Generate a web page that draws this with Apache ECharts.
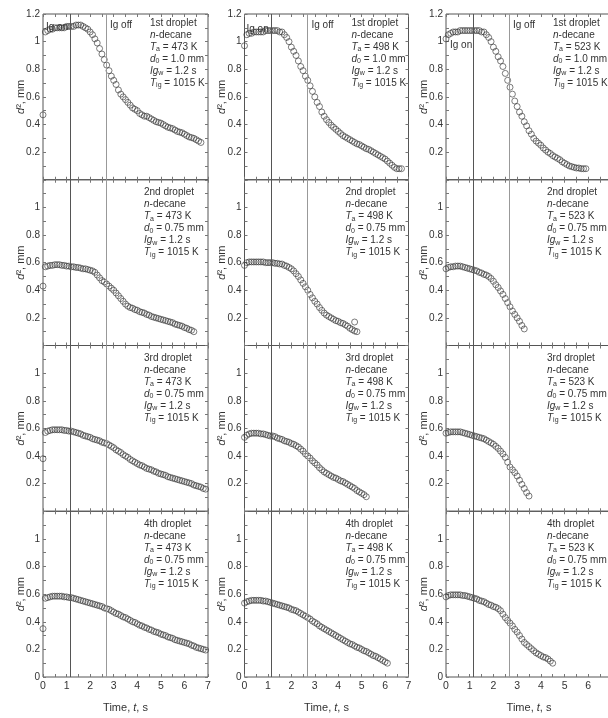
<!DOCTYPE html>
<html><head><meta charset="utf-8">
<script src="https://cdn.jsdelivr.net/npm/echarts@6/dist/echarts.min.js"></script>
<style>html,body{margin:0;padding:0;background:#fff}#c{width:608px;height:718px}</style>
</head><body><div id="c"></div><script>
// ---- data ----
const TIME = [0,0.1,0.2,0.3,0.4,0.5,0.6,0.7,0.8,0.9,1.0,1.1,1.2,1.3,1.4,1.5,1.6,1.7,1.8,1.9,2.0,2.1,2.2,2.3,2.4,2.5,2.6,2.7,2.8,2.9,3.0,3.1,3.2,3.3,3.4,3.5,3.6,3.7,3.8,3.9,4.0,4.1,4.2,4.3,4.4,4.5,4.6,4.7,4.8,4.9,5.0,5.1,5.2,5.3,5.4,5.5,5.6,5.7,5.8,5.9,6.0,6.1,6.2,6.3,6.4,6.5,6.6,6.7,6.8,6.9,7.0];
const TEMPS = [473, 498, 523];
const ORDINALS = ['1st droplet', '2nd droplet', '3rd droplet', '4th droplet'];
const D0_LABELS = ['1.0', '0.75', '0.75', '0.75'];
const IGW_LABEL = '1.2';
const TIG_LABEL = '1015';
const IG_TIMES = [1.15, 2.67];
const X_TICK_LABELS = ['0','1','2','3','4','5','6','7'];

// 1st droplet
const D473_1 = [0.47,1.07,1.08,1.09,1.09,1.10,1.10,1.10,1.10,1.10,1.11,1.11,1.11,1.11,1.12,1.12,1.12,1.11,1.10,1.09,1.07,1.05,1.02,0.99,0.95,0.91,0.87,0.83,0.79,0.75,0.72,0.69,0.65,0.62,0.60,0.58,0.56,0.54,0.52,0.51,0.50,0.48,0.47,0.46,0.46,0.45,0.44,0.43,0.42,0.415,0.41,0.40,0.39,0.38,0.375,0.37,0.36,0.35,0.345,0.34,0.33,0.32,0.31,0.305,0.30,0.29,0.28,0.27];
const D498_1 = [0.97,1.05,1.06,1.06,1.07,1.07,1.07,1.07,1.07,1.08,1.08,1.08,1.08,1.08,1.08,1.07,1.07,1.05,1.03,1.00,0.96,0.93,0.90,0.86,0.82,0.79,0.75,0.72,0.68,0.64,0.60,0.56,0.53,0.49,0.46,0.435,0.415,0.395,0.38,0.365,0.35,0.335,0.32,0.31,0.30,0.29,0.28,0.27,0.26,0.255,0.245,0.235,0.225,0.22,0.21,0.20,0.19,0.18,0.17,0.16,0.15,0.135,0.12,0.105,0.09,0.08,0.08,0.08];
const D523_1 = [1.02,1.05,1.06,1.07,1.07,1.07,1.08,1.08,1.08,1.08,1.08,1.08,1.08,1.08,1.08,1.07,1.07,1.05,1.03,1.00,0.96,0.93,0.89,0.86,0.82,0.77,0.72,0.67,0.62,0.57,0.53,0.49,0.46,0.42,0.39,0.355,0.33,0.30,0.28,0.265,0.25,0.23,0.215,0.20,0.19,0.175,0.165,0.155,0.145,0.13,0.12,0.11,0.10,0.095,0.09,0.085,0.085,0.08,0.08,0.08];
// 2nd droplet
const D473_2 = [0.43,0.57,0.575,0.58,0.58,0.585,0.585,0.585,0.58,0.58,0.575,0.575,0.57,0.57,0.565,0.565,0.56,0.555,0.555,0.55,0.545,0.54,0.53,0.51,0.49,0.47,0.46,0.445,0.43,0.415,0.40,0.38,0.36,0.34,0.32,0.30,0.285,0.275,0.27,0.26,0.255,0.245,0.24,0.235,0.225,0.22,0.21,0.205,0.20,0.195,0.19,0.185,0.18,0.175,0.17,0.165,0.155,0.15,0.145,0.14,0.13,0.125,0.115,0.11,0.10];
const D498_2 = [0.58,0.60,0.605,0.605,0.605,0.605,0.605,0.605,0.605,0.60,0.60,0.60,0.60,0.595,0.595,0.59,0.59,0.58,0.575,0.565,0.555,0.54,0.52,0.50,0.475,0.45,0.425,0.40,0.37,0.345,0.32,0.30,0.275,0.255,0.235,0.22,0.21,0.20,0.19,0.18,0.175,0.165,0.16,0.15,0.14,0.125,0.115,0.105,0.10];
const D498_2_EXTRA = [[4.7, 0.17]];
const D523_2 = [0.555,0.565,0.57,0.57,0.575,0.575,0.575,0.57,0.565,0.56,0.555,0.55,0.545,0.54,0.53,0.525,0.515,0.51,0.50,0.485,0.465,0.44,0.42,0.395,0.37,0.34,0.31,0.28,0.25,0.225,0.20,0.175,0.145,0.12];
// 3rd droplet
const D473_3 = [0.38,0.57,0.58,0.585,0.59,0.59,0.59,0.59,0.59,0.585,0.585,0.58,0.58,0.575,0.57,0.565,0.56,0.55,0.545,0.54,0.535,0.525,0.52,0.515,0.51,0.50,0.495,0.49,0.48,0.47,0.46,0.445,0.435,0.425,0.41,0.40,0.39,0.375,0.365,0.355,0.345,0.335,0.33,0.32,0.31,0.305,0.30,0.29,0.285,0.275,0.27,0.265,0.26,0.25,0.245,0.24,0.235,0.23,0.225,0.22,0.215,0.21,0.205,0.20,0.19,0.185,0.18,0.175,0.165,0.16];
const D498_3 = [0.535,0.55,0.56,0.565,0.565,0.565,0.565,0.56,0.56,0.555,0.55,0.545,0.545,0.54,0.53,0.525,0.52,0.51,0.505,0.50,0.49,0.485,0.475,0.465,0.45,0.435,0.415,0.40,0.385,0.365,0.35,0.335,0.315,0.30,0.285,0.275,0.265,0.255,0.245,0.24,0.23,0.22,0.215,0.205,0.195,0.185,0.175,0.165,0.15,0.14,0.13,0.12,0.105];
const D523_3 = [0.565,0.57,0.575,0.575,0.575,0.575,0.575,0.57,0.565,0.56,0.555,0.55,0.545,0.54,0.535,0.53,0.525,0.515,0.505,0.495,0.485,0.47,0.455,0.435,0.415,0.39,0.355,0.32,0.30,0.28,0.255,0.225,0.195,0.165,0.135,0.11];
// 4th droplet
const D473_4 = [0.35,0.57,0.575,0.58,0.585,0.585,0.585,0.585,0.585,0.58,0.58,0.575,0.575,0.57,0.565,0.56,0.555,0.55,0.545,0.54,0.535,0.53,0.525,0.52,0.515,0.51,0.50,0.495,0.49,0.48,0.47,0.46,0.455,0.445,0.435,0.43,0.42,0.41,0.40,0.395,0.385,0.375,0.37,0.36,0.355,0.345,0.34,0.33,0.325,0.32,0.31,0.305,0.30,0.29,0.285,0.28,0.27,0.265,0.26,0.255,0.25,0.245,0.24,0.23,0.225,0.215,0.21,0.205,0.20,0.195];
const D498_4 = [0.535,0.545,0.55,0.555,0.555,0.555,0.555,0.555,0.55,0.55,0.545,0.54,0.535,0.53,0.525,0.52,0.515,0.51,0.505,0.50,0.49,0.485,0.48,0.47,0.46,0.45,0.44,0.43,0.42,0.405,0.395,0.385,0.37,0.36,0.35,0.34,0.33,0.32,0.31,0.30,0.29,0.28,0.27,0.26,0.25,0.24,0.235,0.225,0.215,0.21,0.20,0.19,0.185,0.175,0.165,0.155,0.15,0.14,0.13,0.12,0.11,0.10];
const D523_4 = [0.58,0.59,0.595,0.595,0.595,0.595,0.595,0.59,0.59,0.585,0.58,0.575,0.57,0.565,0.555,0.55,0.545,0.535,0.525,0.52,0.51,0.505,0.495,0.48,0.455,0.43,0.41,0.39,0.37,0.345,0.325,0.30,0.275,0.25,0.235,0.22,0.205,0.19,0.175,0.165,0.155,0.145,0.14,0.13,0.115,0.10];

const PANELS = [
  [D473_1, D498_1, D523_1],
  [D473_2, D498_2, D523_2],
  [D473_3, D498_3, D523_3],
  [D473_4, D498_4, D523_4]
];
const EXTRAS = { '1-1': D498_2_EXTRA };

// ---- layout / style ----
const F = '"Liberation Sans", Arial, sans-serif';
const COL_LEFT = [43, 244.5, 446];
const COL_W = [165, 164, 166];
const ROW_TOP = 14, ROW_H = 165.75;
const TXT = '#333';
const TICK = '#777';
const FRAME = '#555';

const RICH = {
  n: {fontSize: 10, fontFamily: F, color: TXT, lineHeight: 12},
  i: {fontSize: 10, fontFamily: F, color: TXT, fontStyle: 'italic', lineHeight: 12},
  s: {fontSize: 7, fontFamily: F, color: TXT, verticalAlign: 'bottom'}
};
const NAME_RICH = {
  n: {fontSize: 11, fontFamily: F, color: TXT},
  i: {fontSize: 11, fontFamily: F, color: TXT, fontStyle: 'italic'}
};

const grids = [], xAxes = [], yAxes = [], series = [], graphics = [];

function yFmt(row) {
  return function (v) {
    const s = Math.round(v * 10) / 10;
    if (s === 0 && row !== 3) return '';
    if (s === 1.2 && row !== 0) return '';
    return String(s);
  };
}

for (let r = 0; r < 4; r++) {
  for (let c = 0; c < 3; c++) {
    const g = r * 3 + c;
    const top = ROW_TOP + r * ROW_H;
    grids.push({left: COL_LEFT[c], top: top, width: COL_W[c], height: ROW_H,
      show: true, borderColor: FRAME, borderWidth: 1, backgroundColor: 'transparent',
      containLabel: false, outerBoundsMode: 'none'});
    const tickCommon = () => ({
      axisLine: {show: false, onZero: false},
      axisTick: {show: true, inside: true, length: 3, lineStyle: {color: TICK, width: 1}},
      minorTick: {show: true, splitNumber: 2, length: 3, lineStyle: {color: TICK, width: 1}},
      splitLine: {show: false},
      nameMoveOverlap: false
    });
    xAxes.push(Object.assign({gridIndex: g, type: 'value', position: 'bottom', min: 0, max: 7, interval: 1,
      axisLabel: {show: r === 3, fontSize: 10.5, fontFamily: F, color: TXT, margin: 4,
        formatter: v => X_TICK_LABELS[Math.round(v)]},
      name: r === 3 ? '{n|Time, }{i|t}{n|, s}' : '', nameLocation: 'middle', nameGap: 25,
      nameTextStyle: {rich: NAME_RICH}}, tickCommon()));
    xAxes.push(Object.assign({gridIndex: g, type: 'value', position: 'top', min: 0, max: 7, interval: 1,
      axisLabel: {show: false}}, tickCommon()));
    yAxes.push(Object.assign({gridIndex: g, type: 'value', position: 'left', min: 0, max: 1.2, interval: 0.2,
      axisLabel: {show: true, fontSize: 10, fontFamily: F, color: TXT, margin: 3, formatter: yFmt(r)},
      name: '{i|d}{n|², mm}', nameLocation: 'middle', nameGap: 17, nameRotate: 90,
      nameTextStyle: {rich: NAME_RICH}}, tickCommon()));
    yAxes.push(Object.assign({gridIndex: g, type: 'value', position: 'right', min: 0, max: 1.2, interval: 0.2,
      axisLabel: {show: false}}, tickCommon()));

    const vals = PANELS[r][c];
    const data = vals.map((v, i) => [TIME[i], v]).concat(EXTRAS[r + '-' + c] || []);
    series.push({
      type: 'scatter', xAxisIndex: 2 * g, yAxisIndex: 2 * g, data: data,
      symbol: 'circle', symbolSize: 6,
      itemStyle: {color: 'rgba(0,0,0,0)', borderColor: '#333', borderWidth: 0.8},
      markLine: {silent: true, symbol: ['none', 'none'], label: {show: false}, animation: false,
        lineStyle: {type: 'solid', width: 1},
        data: [
          {xAxis: IG_TIMES[0], lineStyle: {color: '#555', type: 'solid', width: 1}},
          {xAxis: IG_TIMES[1], lineStyle: {color: '#999', type: 'solid', width: 1}}
        ]}
    });

    // annotation block
    const txt = [
      '{n|' + ORDINALS[r] + '}',
      '{i|n}{n|-decane}',
      '{i|T}{s|a}{n| = ' + TEMPS[c] + ' K}',
      '{i|d}{s|0}{n| = ' + D0_LABELS[r] + ' mm}',
      '{i|Ig}{s|w}{n| = ' + IGW_LABEL + ' s}',
      '{i|T}{s|ig}{n| = ' + TIG_LABEL + ' K}'
    ].join('\n');
    graphics.push({type: 'text', silent: true, z: 10,
      left: COL_LEFT[c] + (r === 0 ? 107 : 101), top: top + (r === 0 ? 4 : 7.5),
      style: {text: txt, rich: RICH, fill: TXT, font: '10px ' + F}});

    if (r === 0) {
      const onOff = [[3, 8], [2, 10], [4, 26]][c];
      graphics.push({type: 'text', silent: true, z: 10, left: COL_LEFT[c] + onOff[0], top: top + onOff[1],
        style: {text: 'Ig on', fill: TXT, font: '10px ' + F}});
      graphics.push({type: 'text', silent: true, z: 10, left: COL_LEFT[c] + 67, top: top + 6,
        style: {text: 'Ig off', fill: TXT, font: '10px ' + F}});
    }
  }
}

const chart = echarts.init(document.getElementById('c'), null, {renderer: 'canvas'});
chart.setOption({
  animation: false,
  backgroundColor: '#fff',
  grid: grids, xAxis: xAxes, yAxis: yAxes, series: series, graphic: graphics
});
</script></body></html>
